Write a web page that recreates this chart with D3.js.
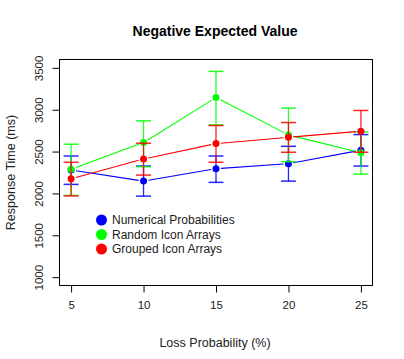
<!DOCTYPE html>
<html><head><meta charset="utf-8">
<script src="https://cdn.jsdelivr.net/npm/d3@7"></script>
<style>body{margin:0;background:#fff;} svg{display:block;font-family:"Liberation Sans",Arial,Helvetica,sans-serif;}</style>
</head><body>
<svg id="c" width="404" height="359"></svg>
<script>
const lossProb = [5, 10, 15, 20, 25];
const yTicks = [1000, 1500, 2000, 2500, 3000, 3500];
const seriesNames = ["Numerical Probabilities", "Random Icon Arrays", "Grouped Icon Arrays"];
const seriesColors = ["#0000ff", "#00ff00", "#ff0000"];
const numericalMean = [2280, 2147, 2295, 2355, 2516];
const numericalLow  = [2108, 1968, 2132, 2147, 2327];
const numericalHigh = [2447, 2327, 2447, 2563, 2703];
const randomMean = [2288, 2607, 3146, 2699, 2487];
const randomLow  = [1976, 2319, 2819, 2379, 2231];
const randomHigh = [2588, 2867, 3458, 3019, 2735];
const groupedMean = [2175, 2411, 2595, 2671, 2743];
const groupedLow  = [1971, 2219, 2372, 2492, 2492];
const groupedHigh = [2372, 2600, 2811, 2847, 2991];

const series = [
  {mean: numericalMean, low: numericalLow, high: numericalHigh},
  {mean: randomMean, low: randomLow, high: randomHigh},
  {mean: groupedMean, low: groupedLow, high: groupedHigh}
];

const svg = d3.select("#c");
const L = 59.5, R = 372.5, T = 59.5, B = 285.5;
const x = d3.scaleLinear().domain([4.2, 25.8]).range([L, R]);
const y = d3.scaleLinear().domain([900, 3600]).range([B, T]);

// box
svg.append("rect").attr("x", L).attr("y", T).attr("width", R - L).attr("height", B - T)
  .attr("fill", "none").attr("stroke", "#000").attr("stroke-width", 1);

// axes
const yAxis = svg.append("g").attr("transform", `translate(${L},0)`)
  .call(d3.axisLeft(y).tickValues(yTicks).tickSize(7).tickSizeOuter(0).tickFormat(d3.format("d")));
yAxis.select(".domain").attr("d", `M0,${y(1000)}V${y(3500)}`);
yAxis.selectAll(".tick text")
  .each(function(d){ d3.select(this).attr("x", null).attr("dy", null)
     .attr("transform", `translate(-20,0) rotate(-90)`).attr("text-anchor", "middle").attr("dominant-baseline","middle"); })
  .attr("font-size", 11.5).attr("fill", "#222").attr("font-family", "Liberation Sans, Arial, sans-serif");

const xAxis = svg.append("g").attr("transform", `translate(0,${B})`)
  .call(d3.axisBottom(x).tickValues(lossProb).tickSize(7).tickSizeOuter(0));
xAxis.select(".domain").attr("d", `M${x(5)},0H${x(25)}`);
xAxis.selectAll(".tick text").attr("y", 15).attr("dy", "0.71em")
  .attr("font-size", 11.5).attr("fill", "#222").attr("font-family", "Liberation Sans, Arial, sans-serif");

// titles
svg.append("text").attr("x", 215).attr("y", 36).attr("text-anchor", "middle")
  .attr("font-size", 14).attr("font-weight", "bold").text("Negative Expected Value");
svg.append("text").attr("x", 215).attr("y", 347).attr("text-anchor", "middle")
  .attr("font-size", 12.5).attr("fill", "#222").text("Loss Probability (%)");
svg.append("text").attr("transform", `translate(15,${(T + B) / 2}) rotate(-90)`).attr("text-anchor", "middle")
  .attr("font-size", 12.5).attr("fill", "#222").text("Response Time (ms)");

// series
const gap = 5;
series.forEach((s, si) => {
  const col = seriesColors[si];
  const g = svg.append("g");
  for (let i = 0; i < lossProb.length - 1; i++) {
    const x1 = x(lossProb[i]), y1 = y(s.mean[i]), x2 = x(lossProb[i+1]), y2 = y(s.mean[i+1]);
    const dx = x2 - x1, dy = y2 - y1, len = Math.hypot(dx, dy);
    const ux = dx / len, uy = dy / len;
    g.append("line").attr("x1", x1 + ux * gap).attr("y1", y1 + uy * gap)
      .attr("x2", x2 - ux * gap).attr("y2", y2 - uy * gap)
      .attr("stroke", col).attr("stroke-width", 1.1);
  }
  lossProb.forEach((lp, i) => {
    const cx = x(lp);
    g.append("line").attr("x1", cx).attr("x2", cx).attr("y1", y(s.low[i])).attr("y2", y(s.high[i]))
      .attr("stroke", col).attr("stroke-width", 1.3).attr("opacity", 0.85);
    [s.low[i], s.high[i]].forEach(v => {
      g.append("line").attr("x1", cx - 7.5).attr("x2", cx + 7.5).attr("y1", y(v)).attr("y2", y(v))
        .attr("stroke", col).attr("stroke-width", 1.5).attr("opacity", 0.85);
    });
  });
  g.selectAll("circle").data(s.mean).join("circle")
    .attr("cx", (d, i) => x(lossProb[i])).attr("cy", d => y(d)).attr("r", 3.5).attr("fill", col);
});

// legend
const lg = svg.append("g");
seriesNames.forEach((n, i) => {
  const yy = 220 + i * 14.5;
  lg.append("circle").attr("cx", 101.5).attr("cy", yy).attr("r", 5.5).attr("fill", seriesColors[i]);
  lg.append("text").attr("x", 112).attr("y", yy).attr("dominant-baseline", "central")
    .attr("font-size", 12).attr("fill", "#222").text(n);
});
</script>
</body></html>
